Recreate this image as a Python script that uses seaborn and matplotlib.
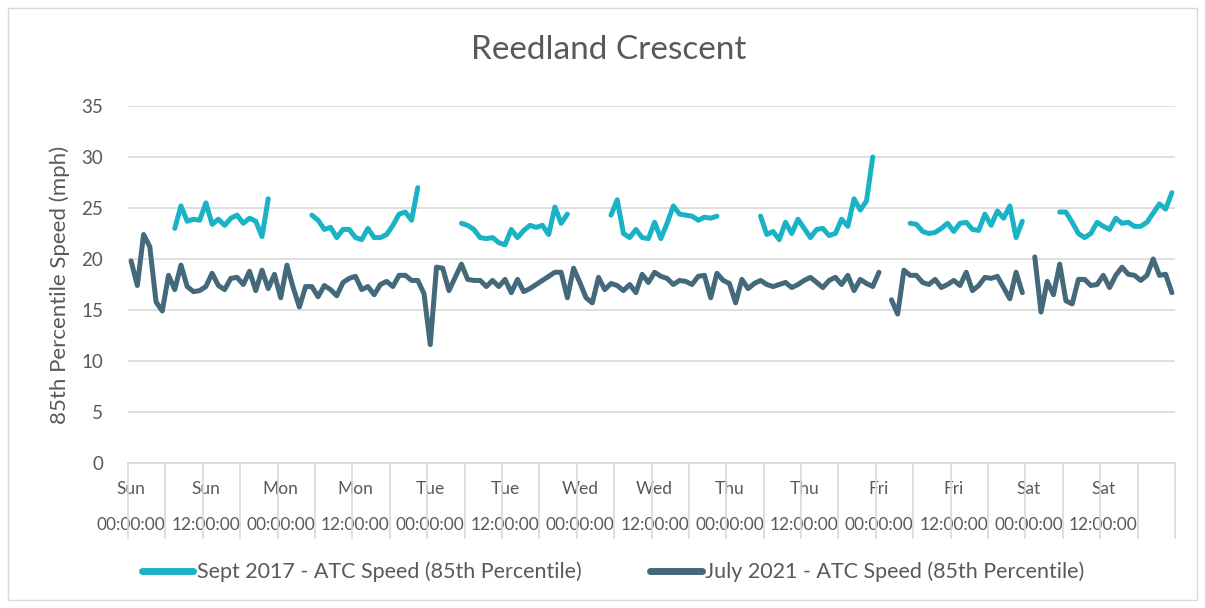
import numpy as np
import pandas as pd
import matplotlib
matplotlib.use("Agg")
import matplotlib.pyplot as plt
import seaborn as sns
from matplotlib.patches import Rectangle

nan = np.nan

# hourly values, Sun 00:00 -> Sat 23:00 (168 hours), gaps = no data
hours = np.arange(168)
days = ["Sun", "Mon", "Tue", "Wed", "Thu", "Fri", "Sat"]
clock = ["00:00:00", "12:00:00"]

sept_2017 = [
    nan, nan, nan, nan, nan, nan, nan, 23.0, 25.2, 23.7, 23.9, 23.8,
    25.5, 23.4, 23.9, 23.3, 24.0, 24.3, 23.5, 24.0, 23.7, 22.2, 25.9, nan,
    nan, nan, nan, nan, nan, 24.3, 23.8, 22.9, 23.1, 22.1, 22.9, 22.9,
    22.1, 21.9, 23.0, 22.1, 22.1, 22.4, 23.3, 24.4, 24.6, 23.8, 27.0, nan,
    nan, nan, nan, nan, nan, 23.5, 23.3, 22.9, 22.1, 22.0, 22.1, 21.6,
    21.4, 22.9, 22.1, 22.8, 23.3, 23.1, 23.3, 22.4, 25.1, 23.5, 24.4, nan,
    nan, nan, nan, nan, nan, 24.3, 25.8, 22.5, 22.1, 22.9, 22.1, 22.0,
    23.6, 22.0, 23.5, 25.2, 24.4, 24.3, 24.2, 23.8, 24.1, 24.0, 24.2, nan,
    nan, nan, nan, nan, nan, 24.2, 22.4, 22.7, 21.9, 23.6, 22.5, 23.9,
    23.0, 22.1, 22.9, 23.0, 22.3, 22.5, 23.9, 23.2, 25.9, 24.8, 25.7, 30.0,
    nan, nan, nan, nan, nan, 23.5, 23.4, 22.7, 22.5, 22.6, 23.0, 23.5,
    22.7, 23.5, 23.6, 22.9, 22.8, 24.4, 23.3, 24.7, 24.0, 25.2, 22.1, 23.7,
    nan, nan, nan, nan, nan, 24.6, 24.6, 23.6, 22.5, 22.1, 22.5, 23.6,
    23.2, 22.9, 24.0, 23.5, 23.6, 23.2, 23.2, 23.6, 24.5, 25.4, 24.9, 26.5,
]

july_2021 = [
    19.8, 17.4, 22.4, 21.2, 15.8, 14.9, 18.4, 17.0, 19.4, 17.3, 16.8, 16.9,
    17.3, 18.6, 17.4, 17.0, 18.1, 18.2, 17.5, 18.8, 16.9, 18.9, 17.1, 18.5,
    16.2, 19.4, 17.2, 15.3, 17.3, 17.3, 16.3, 17.4, 17.0, 16.4, 17.7, 18.1,
    18.3, 17.0, 17.3, 16.5, 17.5, 17.8, 17.3, 18.4, 18.4, 17.9, 17.9, 16.6,
    11.6, 19.2, 19.1, 16.9, 18.2, 19.5, 18.0, 17.9, 17.9, 17.3, 17.9, 17.3,
    18.0, 16.7, 18.0, 16.8, 17.1, 17.5, 17.9, 18.3, 18.7, 18.7, 16.2, 19.1,
    17.7, 16.2, 15.7, 18.2, 17.0, 17.6, 17.4, 16.9, 17.5, 16.7, 18.5, 17.7,
    18.7, 18.3, 18.1, 17.5, 17.9, 17.8, 17.5, 18.3, 18.4, 16.2, 18.6, 17.9,
    17.6, 15.7, 18.0, 17.1, 17.6, 17.9, 17.5, 17.3, 17.5, 17.7, 17.2, 17.5,
    17.9, 18.2, 17.7, 17.2, 17.9, 18.2, 17.5, 18.4, 16.9, 18.0, 17.6, 17.3,
    18.7, nan, 16.0, 14.6, 18.9, 18.4, 18.4, 17.7, 17.5, 18.0, 17.2, 17.5,
    17.9, 17.4, 18.7, 16.9, 17.4, 18.2, 18.1, 18.3, 17.2, 16.1, 18.7, 16.7,
    nan, 20.2, 14.8, 17.8, 16.5, 19.5, 15.9, 15.6, 18.0, 18.0, 17.4, 17.5,
    18.4, 17.2, 18.4, 19.2, 18.5, 18.4, 17.9, 18.4, 20.0, 18.4, 18.5, 16.7,
]

series = ["Sept 2017 - ATC Speed (85th Percentile)",
          "July 2021 - ATC Speed (85th Percentile)"]
palette = {series[0]: "#19B3C5", series[1]: "#43697B"}


def long_form(values, name):
    s = pd.Series(values, dtype=float)
    seg = s.isna().cumsum()  # new segment after every gap
    d = pd.DataFrame({"hour": hours, "speed": s, "series": name,
                      "segment": [f"{name}-{k}" for k in seg]})
    return d.dropna()


df = pd.concat([long_form(sept_2017, series[0]), long_form(july_2021, series[1])])

sns.set_style("white")
plt.rcParams["font.family"] = ["Lato", "DejaVu Sans"]
grey = "#595959"
light = "#d9d9d9"

fig = plt.figure(figsize=(12.05, 6.08), dpi=100)
ax = fig.add_axes([128 / 1205, 1 - 463 / 608, (1175 - 128) / 1205, (463 - 106) / 608])

sns.lineplot(data=df, x="hour", y="speed", hue="series", units="segment",
             estimator=None, palette=palette, linewidth=3.6,
             solid_capstyle="round", solid_joinstyle="round", ax=ax)

ax.set_xlim(-0.5, 167.5)
ax.set_ylim(0, 35)
ax.set_yticks(range(0, 36, 5))
ax.yaxis.grid(True, color=light, linewidth=1.2)
ax.set_axisbelow(True)
for side in ["left", "top", "right"]:
    ax.spines[side].set_visible(False)
ax.spines["bottom"].set_color(light)
ax.spines["bottom"].set_linewidth(1.2)

ax.set_xticks(range(0, 168, 12))
ax.set_xticklabels([f"{days[k // 2]}\n\n{clock[k % 2]}" for k in range(14)])
ax.set_xticks(np.arange(-0.5, 168, 6), minor=True)
ax.tick_params(axis="x", which="major", bottom=True, length=0, pad=13,
               labelsize=12.5, labelcolor=grey)
ax.tick_params(axis="x", which="minor", bottom=True, length=55, color=light, width=1.2)
ax.tick_params(axis="y", length=0, pad=18, labelsize=13.5, labelcolor=grey)
plt.setp(ax.get_xticklabels(), linespacing=1.15)

ax.set_xlabel("")
ax.set_ylabel("85th Percentile Speed (mph)", fontsize=16, color=grey, labelpad=8)

fig.text(609 / 1205, 1 - 50 / 608, "Reedland Crescent", ha="center", va="center",
         fontsize=24, color=grey)

handles, labels = ax.get_legend_handles_labels()
ax.get_legend().remove()
for h in handles:
    h.set_linewidth(5)
fig.legend(handles, labels, loc="center", bbox_to_anchor=(613 / 1205, 1 - 572 / 608),
           ncol=2, frameon=False, fontsize=15.5, labelcolor=grey,
           handlelength=2.4, handletextpad=0.15, columnspacing=3.2)

fig.patches.append(Rectangle((8 / 1205, 8 / 608), 1189 / 1205, 592 / 608,
                             transform=fig.transFigure, fill=False,
                             edgecolor=light, linewidth=1))

fig.savefig("out.png", dpi=100)
